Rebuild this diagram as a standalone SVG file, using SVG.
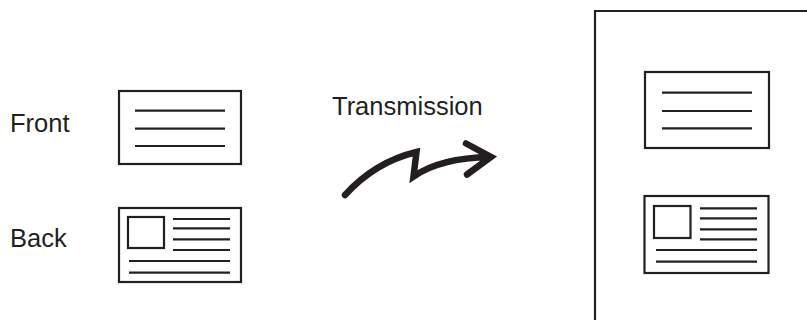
<svg xmlns="http://www.w3.org/2000/svg" width="807" height="320" viewBox="0 0 807 320">
<style>
.card{fill:#fff;stroke:#231f20;stroke-width:2.2}
.ln{stroke:#231f20;stroke-width:2.2;fill:none}
.lbl{font-family:"Liberation Sans",Arial,sans-serif;font-size:25.5px;fill:#231f20}
</style>
<rect width="807" height="320" fill="#fff"/>
<g id="front-label"><text class="lbl" x="10" y="131.5">Front</text></g>
<g id="back-label"><text class="lbl" x="10" y="246.5">Back</text></g>
<g id="transmission-label"><text class="lbl" x="332" y="115">Transmission</text></g>
<g id="front-card">
<rect class="card" x="119" y="91" width="122" height="73"/>
<path class="ln" d="M135 110.7H225M135 128.7H225M135 146H225"/>
</g>
<g id="back-card">
<rect class="card" x="119" y="208" width="122" height="74"/>
<rect class="card" x="128" y="217" width="36" height="31"/>
<path class="ln" d="M173 219H230M173 228.3H230M173 239.3H230M173 250H230M129 261H230M129 272.7H230"/>
</g>
<g id="receiver-page">
<path class="ln" d="M807 11H595V320"/>
<g id="received-front">
<rect class="card" x="645" y="72" width="124" height="76"/>
<path class="ln" d="M662 92.7H752M662 111H752M662 128.3H752"/>
</g>
<g id="received-back">
<rect class="card" x="644.5" y="196" width="124" height="77"/>
<rect class="card" x="654" y="206" width="36.5" height="32"/>
<path class="ln" d="M700 208.3H757M700 218.3H757M700 229.3H757M700 239.3H757M656 250H757M656 261.7H757"/>
</g>
</g>
<g id="connectors">
<path d="M345 195Q375 162 416.5 152L413.5 176.5Q440 158 490 157M466 143.5L491 157L467 174.5" fill="none" stroke="#231f20" stroke-width="6.5" stroke-linecap="round" stroke-linejoin="miter" stroke-miterlimit="6"/>
</g>
</svg>
